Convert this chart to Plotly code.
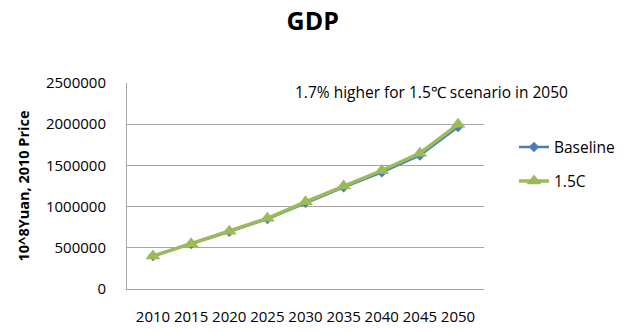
import plotly.graph_objects as go

years = ["2010", "2015", "2020", "2025", "2030", "2035", "2040", "2045", "2050"]
baseline = [400000, 545000, 695000, 850000, 1045000, 1235000, 1415000, 1620000, 1965000]
scen_15c = [400000, 549000, 702000, 858000, 1058000, 1250000, 1438000, 1648000, 1998000]
y_ticks = [0, 500000, 1000000, 1500000, 2000000, 2500000]

FONT = "Open Sans"

fig = go.Figure()
fig.add_trace(go.Scatter(
    x=years, y=baseline, name="Baseline", mode="lines+markers", legendgroup="a",
    line=dict(color="#4A7EBB", width=2.5),
    marker=dict(symbol="diamond", size=8, color="#4A7EBB"),
))
fig.add_trace(go.Scatter(
    x=years, y=scen_15c, name="1.5C", mode="lines+markers", legendgroup="b",
    line=dict(color="#9BBB59", width=3.5),
    marker=dict(symbol="triangle-up", size=13, color="#9BBB59"),
))

fig.update_layout(
    width=628, height=331,
    margin=dict(l=127, r=144, t=83, b=42, autoexpand=False),
    paper_bgcolor="white", plot_bgcolor="white",
    font=dict(family=FONT, size=15, color="black"),
    title=dict(text="<b>GDP</b>", x=0.498, xanchor="center", y=0.935, yanchor="middle",
               font=dict(family=FONT, size=25, color="black")),
    showlegend=True,
    legend=dict(x=1.084, xanchor="left", y=0.77, yanchor="top",
                font=dict(family=FONT, size=15.5, color="black"),
                tracegroupgap=11, bgcolor="rgba(0,0,0,0)"),
    xaxis=dict(type="category", showgrid=False, showline=True, linecolor="#A6A6A6",
               linewidth=1, ticks="", ticklabelstandoff=14, automargin=False,
               tickfont=dict(family=FONT, size=15, color="black")),
    yaxis=dict(range=[0, 2500000], tickvals=y_ticks, ticktext=[str(v) for v in y_ticks],
               showgrid=True, gridcolor="#A6A6A6", gridwidth=1, zeroline=False,
               showline=True, linecolor="#A6A6A6", linewidth=1, ticks="",
               ticklabelstandoff=17, automargin=False,
               tickfont=dict(family=FONT, size=15, color="black")),
)
fig.update_yaxes(title=dict(text="<b>10^8Yuan, 2010 Price</b>", standoff=12,
                            font=dict(family=FONT, size=14.5, color="black")))
fig.add_annotation(text="1.7% higher for 1.5℃ scenario in 2050", xref="paper", yref="paper",
                   x=0.854, y=0.956, xanchor="center", yanchor="middle", showarrow=False,
                   font=dict(family=FONT, size=15.5, color="black"))

fig.write_html("out.html")
